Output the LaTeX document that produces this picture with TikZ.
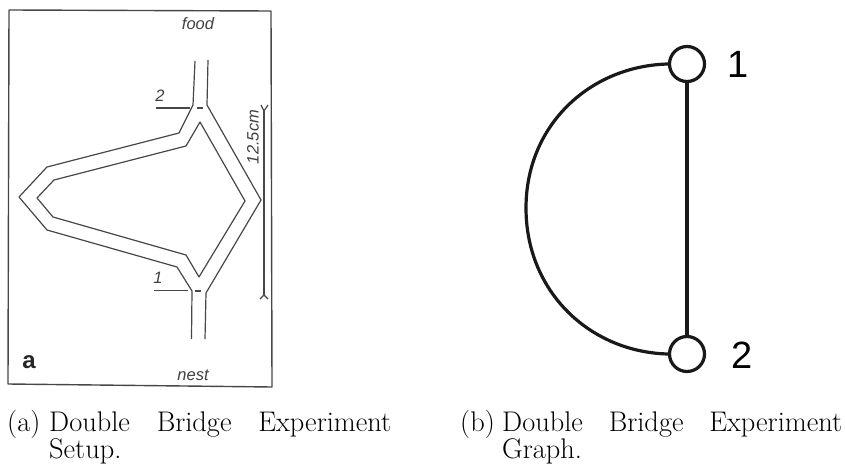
\documentclass[tikz,border=0pt]{standalone}
\usepackage{fontspec}
\newfontfamily\lsans{Liberation Sans}
\tikzset{
 x=1pt,y=-1pt,
 scan/.style={draw=black!72,line width=1.2pt,line join=round},
 graphline/.style={draw=black!90,line width=3.2pt},
 vertex/.style={circle,draw=black!90,line width=3.2pt,fill=white,minimum size=35pt,inner sep=0pt},
 scantext/.style={font=\lsans\itshape\fontsize{16.5}{18}\selectfont,text=black!75,inner sep=0pt},
 numlabel/.style={font=\lsans\fontsize{38}{40}\selectfont,text=black,inner sep=0pt},
 captext/.style={font=\fontsize{28.4}{30}\selectfont,anchor=base west,inner sep=0pt}
}
\begin{document}
\begin{tikzpicture}
\useasboundingbox (0,0) rectangle (845,465);
% Left panel: frame
\draw[scan,line width=1.4pt] (9,10) -- (271,11) -- (272,387) -- (8,384) -- cycle;
% channel outline
\draw[scan] (195,61) -- (193,105) -- (179,133) -- (47,167) -- (19,197) -- (47,230) -- (177,267) -- (192,291) -- (191.5,339);
\draw[scan] (208,60) -- (207,105) -- (261,200) -- (206,293) -- (205,339);
\draw[scan] (200,122) -- (186,146) -- (54,180) -- (37,198) -- (53,217) -- (186,255) -- (199,277) -- (245,201) -- cycle;
% position markers
\coordinate (m2s) at (156,108); \coordinate (m2e) at (190,108);
\coordinate (m1s) at (154,290.5); \coordinate (m1e) at (188,290.5);
\coordinate (d2s) at (197,108); \coordinate (d2e) at (203,108);
\coordinate (d1s) at (195,291); \coordinate (d1e) at (201,291);
\draw[scan] (m2s) -- (m2e);
\draw[scan] (m1s) -- (m1e);
\draw[scan,line width=1.6pt] (d2s) -- (d2e);
\draw[scan,line width=1.6pt] (d1s) -- (d1e);
% dimension line
\coordinate (dt) at (264,111); \coordinate (db) at (264,295);
\draw[scan] (dt) -- (db);
\draw[scan] (261,105) -- (dt) -- (268,105);
\draw[scan] (260,299) -- (db) -- (268,299);
\node[scantext] (food) at (198,24) {food};
\node[scantext] (nest) at (193,375) {nest};
\node[scantext] (n2) at (160,96) {2};
\node[scantext] (n1) at (158,278) {1};
\node[scantext,rotate=90] (len) at (253,137) {12.5cm};
\node[font=\lsans\bfseries\fontsize{24}{26}\selectfont,text=black!85,inner sep=0pt] (a) at (29,362) {a};
% Right panel
\node[vertex] (v1) at (687,64) {};
\node[vertex] (v2) at (687,354) {};
\draw[graphline] (v1) -- (v2);
\draw[graphline] (v1.west) .. controls (590,66) and (526,125) .. (526,208) .. controls (526,292) and (590,352) .. (v2.west);
\node[numlabel] (l1) at (738,64) {1};
\node[numlabel] (l2) at (742,355) {2};
% Captions
\node[captext] (capa) at (7,431) {(a)};
\node[captext] (capat) at (49,431) {\hbox to 342pt{Double\hfill Bridge\hfill Experiment}};
\node[captext] (capas) at (49,458.5) {Setup.};
\node[captext] (capb) at (460,431) {(b)};
\node[captext] (capbt) at (502,431) {\hbox to 340pt{Double\hfill Bridge\hfill Experiment}};
\node[captext] (capbs) at (502,458.5) {Graph.};
\end{tikzpicture}
\end{document}
